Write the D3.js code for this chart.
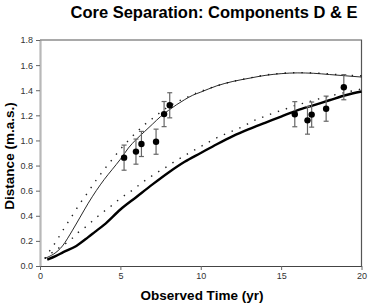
<!DOCTYPE html>
<html>
<head>
<meta charset="utf-8">
<script src="https://cdn.jsdelivr.net/npm/d3@7"></script>
<style>
  body { margin: 0; background: #fff; }
  svg text { font-family: "Liberation Sans", Arial, sans-serif; }
</style>
</head>
<body>
<div id="chart"></div>
<script>
// observed separations (yr, m.a.s.) with +/- errors
var obsTime = [5.23, 5.97, 6.31, 7.22, 7.72, 8.07, 15.85, 16.64, 16.9, 17.8, 18.9];
var obsDist = [0.863, 0.911, 0.972, 0.99, 1.21, 1.28, 1.209, 1.16, 1.206, 1.253, 1.424];
var obsErr  = [0.10, 0.10, 0.10, 0.10, 0.10, 0.10, 0.10, 0.11, 0.10, 0.10, 0.10];

// model curves
var thinX = [0.3, 1.4, 2, 2.5, 3, 3.5, 4, 4.5, 5, 5.5, 6, 6.5, 7, 7.5, 8, 8.5, 9, 9.5, 10, 11, 12, 13, 14, 15, 16, 17, 18, 19, 20];
var thinY = [0.06, 0.16, 0.28, 0.39, 0.5, 0.6, 0.69, 0.77, 0.85, 0.94, 1.01, 1.07, 1.13, 1.19, 1.24, 1.285, 1.325, 1.36, 1.385, 1.435, 1.47, 1.495, 1.518, 1.532, 1.538, 1.535, 1.525, 1.515, 1.505];

var dotUpX = [0.3, 0.6, 1, 1.5, 2, 2.5, 3, 3.5, 4, 4.5, 5, 5.5, 6, 6.5, 7, 7.5, 8, 8.5, 9, 9.5, 10, 11, 12, 13, 14, 15, 16, 17, 18, 19, 20];
var dotUpY = [0.06, 0.12, 0.195, 0.3, 0.4, 0.5, 0.59, 0.685, 0.77, 0.85, 0.93, 1.0, 1.065, 1.125, 1.175, 1.225, 1.27, 1.305, 1.335, 1.365, 1.39, 1.435, 1.47, 1.497, 1.52, 1.535, 1.54, 1.538, 1.53, 1.52, 1.515];

var thickX = [0.45, 1, 1.45, 2.26, 3, 3.4, 4, 5, 6, 7, 8, 9, 10, 11, 12, 13, 14, 15, 16, 17, 18, 19, 20];
var thickY = [0.05, 0.08, 0.11, 0.16, 0.23, 0.27, 0.33, 0.45, 0.55, 0.65, 0.745, 0.83, 0.9, 0.97, 1.035, 1.09, 1.14, 1.19, 1.24, 1.28, 1.32, 1.36, 1.39];

var dotLoX = [0.3, 1, 1.5, 1.95, 2.4, 2.92, 3.4, 3.88, 4.4, 4.85, 5.35, 5.85, 6.35, 6.84, 7.32, 7.82, 8.3, 8.79, 9.27, 9.77, 10.26, 10.74, 11.24, 11.74, 12.21, 12.69, 13.17, 13.69, 14.14, 14.66, 15.14, 15.66, 16.13, 16.63, 17.11, 17.59, 18.08, 18.56, 19.04, 19.53, 20];
var dotLoY = [0.06, 0.13, 0.17, 0.215, 0.27, 0.32, 0.374, 0.425, 0.475, 0.523, 0.57, 0.613, 0.664, 0.707, 0.747, 0.786, 0.826, 0.863, 0.9, 0.935, 0.97, 1.004, 1.036, 1.062, 1.089, 1.115, 1.15, 1.177, 1.2, 1.225, 1.243, 1.27, 1.288, 1.304, 1.323, 1.339, 1.355, 1.37, 1.384, 1.397, 1.41];

var xTicks = [0, 5, 10, 15, 20];
var yTicks = [0, 0.2, 0.4, 0.6, 0.8, 1.0, 1.2, 1.4, 1.6, 1.8];

var W = 368, H = 306;
var svg = d3.select("#chart").append("svg")
    .attr("width", W)
    .attr("height", H);

var x = d3.scaleLinear().domain([0, 20]).range([40, 361.5]);
var y = d3.scaleLinear().domain([0, 1.8]).range([266, 40]);

function zip(xs, ys) {
    return xs.map(function(v, i) { return [v, ys[i]]; });
}

var line = d3.line()
    .x(function(d) { return x(d[0]); })
    .y(function(d) { return y(d[1]); })
    .curve(d3.curveMonotoneX);

// title
svg.append("text")
    .attr("x", 214).attr("y", 18)
    .attr("text-anchor", "middle")
    .attr("font-size", 16.5).attr("font-weight", "bold")
    .text("Core Separation: Components D & E");

// axes
var yAxis = svg.append("g")
    .attr("transform", "translate(" + x(0) + ",0)")
    .call(d3.axisLeft(y).tickValues(yTicks).tickSize(4).tickSizeOuter(0).tickFormat(d3.format(".1f")));
var xAxis = svg.append("g")
    .attr("transform", "translate(0," + y(0) + ")")
    .call(d3.axisBottom(x).tickValues(xTicks).tickSize(4).tickSizeOuter(0));

[yAxis, xAxis].forEach(function(g) {
    g.selectAll("text").attr("font-size", 9).attr("fill", "#333")
        .style("font-family", "'Liberation Sans', Arial, sans-serif");
    g.selectAll("line").attr("stroke", "#666");
});
yAxis.select(".domain").attr("stroke", "#b8b8b8").attr("stroke-width", 2.2);
xAxis.select(".domain").attr("stroke", "#444");

// plot frame (top and right)
svg.append("path")
    .attr("d", "M" + x(0) + "," + y(1.8) + "H" + x(20) + "V" + y(0))
    .attr("fill", "none")
    .attr("stroke", "#555")
    .attr("stroke-width", 1.2);

// model curves
svg.append("path").datum(zip(dotUpX, dotUpY))
    .attr("d", line).attr("fill", "none")
    .attr("stroke", "#222").attr("stroke-width", 1.4)
    .attr("stroke-dasharray", "1.4,7");
svg.append("path").datum(zip(dotLoX, dotLoY))
    .attr("d", line).attr("fill", "none")
    .attr("stroke", "#222").attr("stroke-width", 1.4)
    .attr("stroke-dasharray", "1.4,7");
svg.append("path").datum(zip(thinX, thinY))
    .attr("d", line).attr("fill", "none")
    .attr("stroke", "#111").attr("stroke-width", 0.9);
svg.append("path").datum(zip(thickX, thickY))
    .attr("d", line).attr("fill", "none")
    .attr("stroke", "#000").attr("stroke-width", 2.4);

// observations
var obs = obsTime.map(function(t, i) { return {t: t, d: obsDist[i], e: obsErr[i]}; });
var eb = svg.append("g").attr("stroke", "#666").attr("stroke-width", 1.2);
obs.forEach(function(o) {
    eb.append("line")
        .attr("x1", x(o.t)).attr("x2", x(o.t))
        .attr("y1", y(o.d - o.e)).attr("y2", y(o.d + o.e));
    [o.d - o.e, o.d + o.e].forEach(function(v) {
        eb.append("line")
            .attr("x1", x(o.t) - 2.5).attr("x2", x(o.t) + 2.5)
            .attr("y1", y(v)).attr("y2", y(v));
    });
});
svg.append("g").selectAll("circle")
    .data(obs).join("circle")
    .attr("cx", function(d) { return x(d.t); })
    .attr("cy", function(d) { return y(d.d); })
    .attr("r", 3.2)
    .attr("fill", "#000");

// axis titles
svg.append("text")
    .attr("x", 202).attr("y", 300)
    .attr("text-anchor", "middle")
    .attr("font-size", 13.5).attr("font-weight", "bold")
    .text("Observed Time (yr)");
svg.append("text")
    .attr("transform", "translate(14,156) rotate(-90)")
    .attr("text-anchor", "middle")
    .attr("font-size", 13.5).attr("font-weight", "bold")
    .text("Distance (m.a.s.)");
</script>
</body>
</html>
